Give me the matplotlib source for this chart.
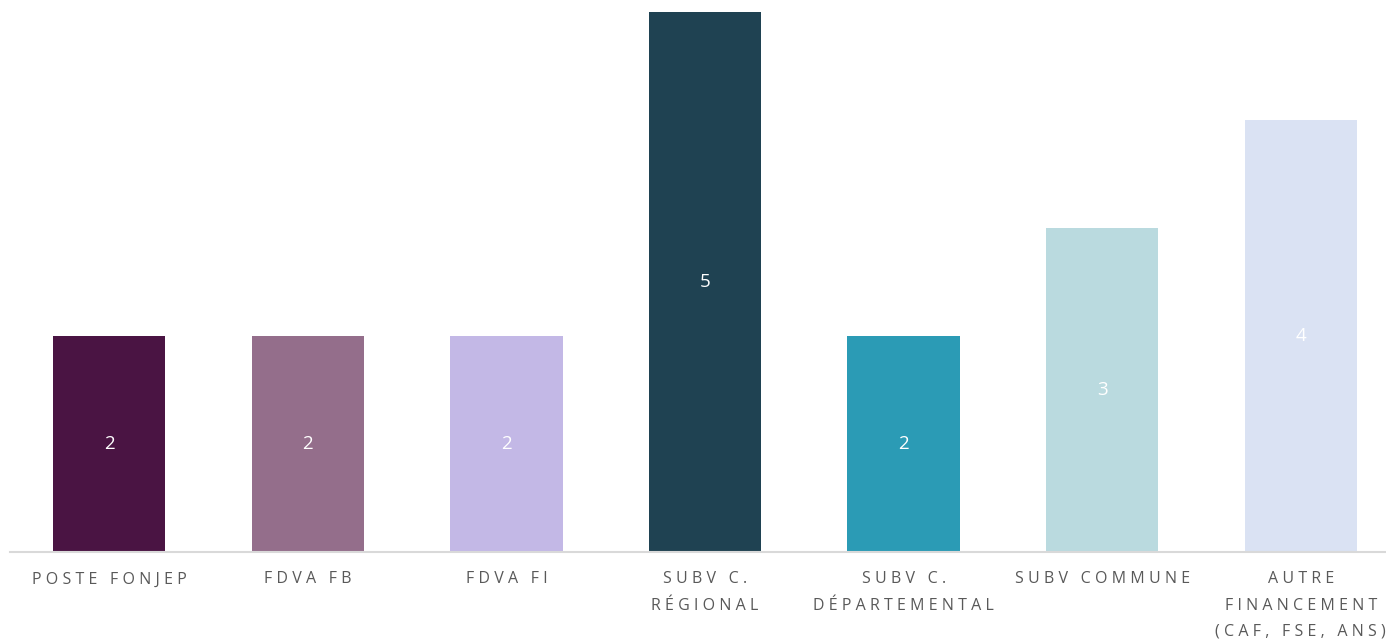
import matplotlib.pyplot as plt

categories = ["POSTE FONJEP", "FDVA FB", "FDVA FI", "SUBV C.\nRÉGIONAL",
              "SUBV C.\nDÉPARTEMENTAL", "SUBV COMMUNE",
              "AUTRE\nFINANCEMENT\n(CAF, FSE, ANS)"]
values = [2, 2, 2, 5, 2, 3, 4]
colors = ["#4A1443", "#946E8B", "#C3B8E6", "#1F4252", "#2B9BB5", "#BADADF", "#DAE2F3"]

plt.rcParams['font.family'] = ['Open Sans', 'DejaVu Sans']


def spaced(s):
    # fake letter spacing with thin + hair spaces
    return "\n".join("\u2009\u200a".join(line) for line in s.split("\n"))


fig = plt.figure(figsize=(13.86, 6.44), dpi=100)
ax = fig.add_axes([10 / 1386, (644 - 552) / 644, 1390 / 1386, 540 / 644])

x = range(len(values))
bars = ax.bar(x, values, width=0.565, color=colors)
for b, v in zip(bars, values):
    ax.text(b.get_x() + b.get_width() / 2, v / 2, str(v), ha="center", va="center",
            color="white", fontsize=13.5)

ax.set_xlim(-0.5, len(values) - 0.5)
ax.set_ylim(0, 5)
ax.set_yticks([])
ax.set_xticks(list(x))
ax.set_xticklabels([spaced(c) for c in categories], fontsize=11.5, color="#595959",
                   linespacing=1.85)
ax.tick_params(axis="x", length=0, pad=14)
for s in ["top", "right", "left"]:
    ax.spines[s].set_visible(False)
ax.spines["bottom"].set_color("#D9D9D9")
ax.spines["bottom"].set_linewidth(1.5)

fig.savefig("out.png", dpi=100)
